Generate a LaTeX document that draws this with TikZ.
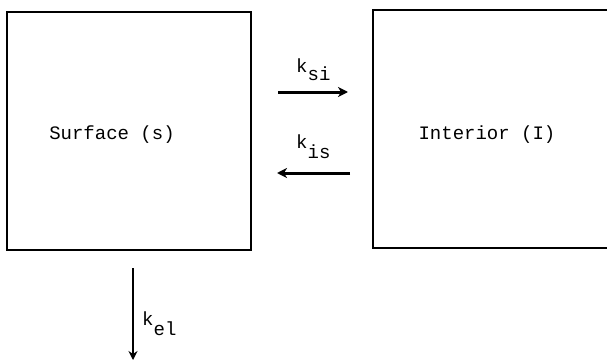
\documentclass[tikz,border=0pt]{standalone}
\usepackage{fontspec}
\setmainfont{Liberation Mono}
\usetikzlibrary{arrows.meta}
\begin{document}
\begin{tikzpicture}[
  x=1pt, y=-1pt,
  comp/.style={rectangle, draw, line width=2pt, outer sep=0pt, minimum width=244pt, minimum height=238pt},
  lbl/.style={font=\fontsize{19}{23}\selectfont, inner sep=0pt},
  flow/.style={-{Stealth[length=10pt, width=10pt, inset=3pt]}, line width=3pt},
  drop/.style={-{Stealth[length=9pt, width=9pt, inset=3pt]}, line width=1.6pt},
]
  \useasboundingbox (0,0) rectangle (607,361);
  \clip (0,0) rectangle (607,361);

  % Compartments and their names
  \node[comp] (surf) at (129, 131) {};
  \node[comp, minimum width=242pt] (int) at (494, 129) {};
  \node[lbl] (surfname) at (112, 135) {Surface (s)};
  \node[lbl] (intname) at (487, 135) {Interior (I)};

  % Rate constants
  \node[lbl, anchor=base west] (ksi) at (296, 72) {k\raisebox{-8pt}{si}};
  \node[lbl, anchor=base west] (kis) at (296, 148) {k\raisebox{-10pt}{is}};
  \node[lbl, anchor=base west] (kel) at (142, 325) {k\raisebox{-10pt}{el}};

  % Exchange and elimination
  \draw[flow, shorten <=27pt, shorten >=25pt] (surf.east |- 0,92) -- (int.west |- 0,92);
  \draw[flow, shorten <=23pt, shorten >=26pt] (int.west |- 0,173) -- (surf.east |- 0,173);
  \draw[drop, shorten <=18pt] ([xshift=4pt]surf.south) -- ++(0,110);
\end{tikzpicture}
\end{document}
